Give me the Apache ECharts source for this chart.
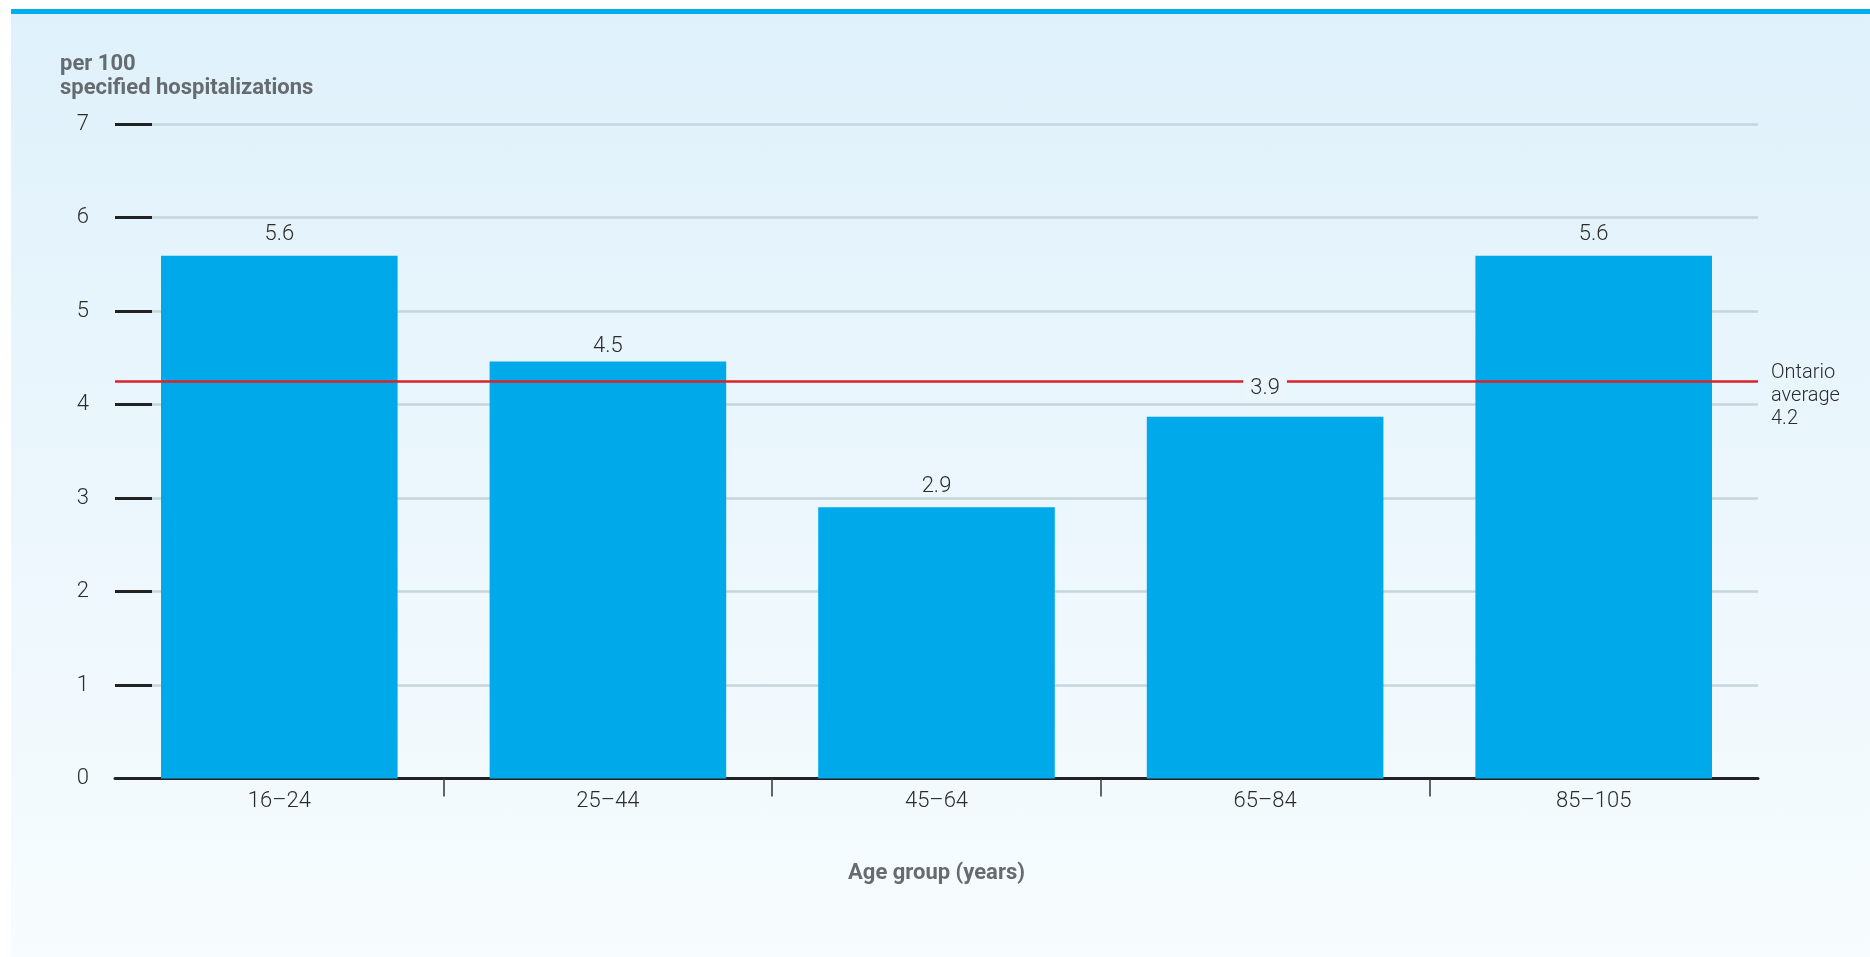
<!DOCTYPE html>
<html>
<head>
<meta charset="utf-8">
<script src="https://cdn.jsdelivr.net/npm/echarts@6/dist/echarts.min.js"></script>
<style>
html,body{margin:0;padding:0;background:#fff;}
#page{position:relative;width:1870px;height:957px;background:#fff;overflow:hidden;}
#panel{position:absolute;left:11px;top:9px;right:0;bottom:0;border-top:5px solid #00aeef;background:linear-gradient(#dff1fb,#f7fcfe);}
#chart{position:absolute;left:0;top:0;width:1870px;height:957px;}
</style>
</head>
<body>
<div id="page"><div id="panel"></div><div id="chart"></div></div>
<script>
const categories = ['16–24', '25–44', '45–64', '65–84', '85–105'];
const rates = [5.59, 4.46, 2.90, 3.87, 5.59];
const ontarioAverage = 4.25;
const ontarioAverageLabel = '4.2';
const yTicks = [0, 1, 2, 3, 4, 5, 6, 7];
const categoryDividers = [1, 2, 3, 4];

const FONT = 'Roboto';
const chart = echarts.init(document.getElementById('chart'), null, {renderer: 'canvas'});
const labelData = rates.map((v, i) => {
  const item = {value: v};
  if (i === 1) {
    item.label = {offset: [0, 6]};
  }
  if (i === 3) {
    item.label = {backgroundColor: '#eaf6fc', padding: [3, 7, 1, 7], offset: [0, -6]};
  }
  return item;
});
chart.setOption({
  animation: false,
  title: {
    text: 'per 100\nspecified hospitalizations',
    left: 55, top: 47,
    textStyle: {fontFamily: FONT, fontWeight: 700, fontSize: 22, color: '#666b70', lineHeight: 24}
  },
  grid: {left: 115, right: 112, top: 124, bottom: 178.5},
  xAxis: [{
    type: 'category',
    data: categories,
    name: 'Age group (years)',
    nameLocation: 'middle',
    nameGap: 84,
    nameTextStyle: {fontFamily: FONT, fontWeight: 700, fontSize: 22, color: '#666b70'},
    axisLine: {lineStyle: {color: '#222', width: 3}},
    axisTick: {show: false},
    axisLabel: {fontFamily: FONT, fontWeight: 300, fontSize: 22, color: '#2b2b2b', margin: 12}
  }, {
    type: 'value',
    position: 'bottom',
    min: 0, max: categories.length,
    axisLine: {show: false},
    splitLine: {show: false},
    axisLabel: {show: false},
    axisTick: {show: true, length: 18, customValues: categoryDividers, lineStyle: {color: '#333', width: 1.5}}
  }],
  yAxis: {
    type: 'value',
    min: yTicks[0], max: yTicks[yTicks.length - 1], interval: 1,
    axisLine: {show: false},
    axisTick: {show: true, inside: true, length: 37, lineStyle: {color: '#222', width: 3}},
    splitLine: {lineStyle: {color: '#c6d4dd', width: 2.5}},
    axisLabel: {fontFamily: FONT, fontWeight: 300, fontSize: 22, color: '#2b2b2b', margin: 26}
  },
  series: [
    {
      type: 'bar', z: 2,
      data: rates,
      barCategoryGap: '28%',
      itemStyle: {color: '#00a9ea'}
    },
    {
      type: 'line', z: 3, data: [], symbol: 'none',
      markLine: {
        silent: true, symbol: 'none', z: 5,
        lineStyle: {color: '#d9232b', width: 2.5, type: 'solid'},
        label: {
          show: true, position: 'end', distance: 13,
          formatter: 'Ontario\naverage\n' + ontarioAverageLabel,
          fontFamily: FONT, fontWeight: 300, fontSize: 20, lineHeight: 23, color: '#2b2b2b',
          align: 'left', offset: [0, 15]
        },
        data: [{yAxis: ontarioAverage}]
      }
    },
    {
      type: 'bar', z: 8,
      data: labelData,
      barGap: '-100%',
      barCategoryGap: '28%',
      itemStyle: {color: 'rgba(0,0,0,0)'},
      label: {
        show: true, position: 'top', distance: 10,
        fontFamily: FONT, fontWeight: 300, fontSize: 22, color: '#2b2b2b',
        formatter: p => p.value.toFixed(1)
      }
    }
  ]
});
</script>
</body>
</html>
